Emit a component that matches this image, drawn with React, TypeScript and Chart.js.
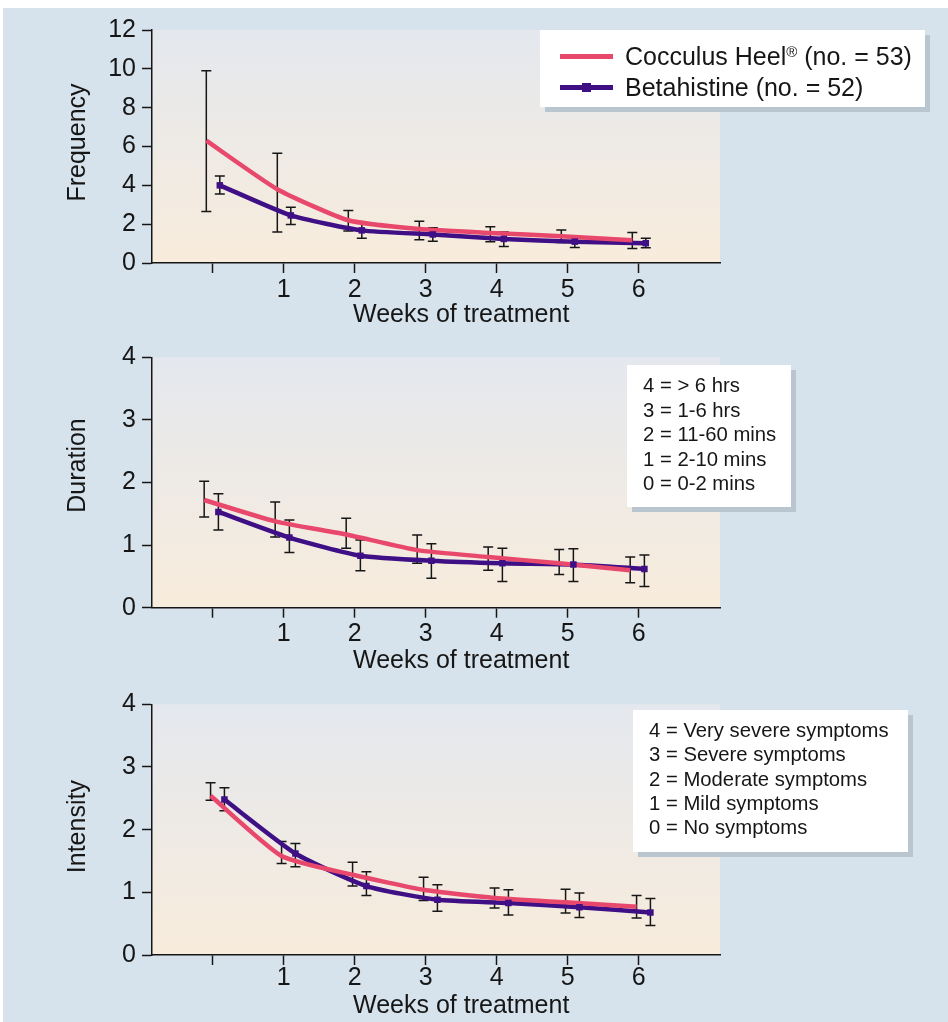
import React, { useEffect, useRef } from 'react';
import { Chart, registerables } from 'chart.js';

Chart.register(...registerables);

const FONT = '"Liberation Sans", Arial, Helvetica, sans-serif';
const PINK = '#e8486b';
const PURPLE = '#3e0f85';
const INK = '#161616';
const PAGE_BLUE = '#d7e3ec';

// ---------- data ----------
const weeks = [0, 1, 2, 3, 4, 5, 6];
const weekTickLabels = ['', '1', '2', '3', '4', '5', '6'];
const xAxisTitle = 'Weeks of treatment';
const seriesNames = ['Cocculus Heel® (no. = 53)', 'Betahistine (no. = 52)'];

const frequencyTicks = [0, 2, 4, 6, 8, 10, 12];
const scoreTicks = [0, 1, 2, 3, 4];

// Frequency
const freqCocculus = [6.3, 3.8, 2.2, 1.75, 1.55, 1.38, 1.17];
const freqCocculusLow = [2.65, 1.6, 1.65, 1.2, 1.1, 1.05, 0.75];
const freqCocculusHigh = [9.9, 5.65, 2.7, 2.15, 1.87, 1.7, 1.57];
const freqBeta = [4.0, 2.45, 1.68, 1.47, 1.24, 1.1, 1.02];
const freqBetaLow = [3.55, 1.98, 1.28, 1.12, 0.85, 0.8, 0.78];
const freqBetaHigh = [4.48, 2.87, 2.05, 1.82, 1.6, 1.4, 1.28];

// Duration
const durCocculus = [1.72, 1.38, 1.17, 0.92, 0.81, 0.71, 0.6];
const durCocculusLow = [1.45, 1.13, 0.95, 0.71, 0.6, 0.53, 0.4];
const durCocculusHigh = [2.02, 1.69, 1.43, 1.16, 0.97, 0.93, 0.81];
const durBeta = [1.53, 1.12, 0.83, 0.75, 0.71, 0.69, 0.62];
const durBetaLow = [1.24, 0.88, 0.59, 0.47, 0.42, 0.42, 0.34];
const durBetaHigh = [1.82, 1.4, 1.08, 1.02, 0.95, 0.94, 0.84];

// Intensity
const intCocculus = [2.54, 1.58, 1.28, 1.04, 0.91, 0.84, 0.77];
const intCocculusLow = [2.47, 1.46, 1.1, 0.87, 0.75, 0.67, 0.59];
const intCocculusHigh = [2.75, 1.81, 1.48, 1.24, 1.07, 1.05, 0.95];
const intBeta = [2.48, 1.62, 1.1, 0.88, 0.83, 0.76, 0.68];
const intBetaLow = [2.3, 1.41, 0.95, 0.7, 0.64, 0.6, 0.47];
const intBetaHigh = [2.67, 1.78, 1.33, 1.12, 1.04, 0.99, 0.9];

const durationKey = ['4 = > 6 hrs', '3 = 1-6 hrs', '2 = 11-60 mins', '1 = 2-10 mins', '0 = 0-2 mins'];
const intensityKey = [
  '4 = Very severe symptoms',
  '3 = Severe symptoms',
  '2 = Moderate symptoms',
  '1 = Mild symptoms',
  '0 = No symptoms',
];

// ---------- layout ----------
const X_MIN = -0.855;
const X_MAX = 7.145;
const Y_AXIS_W = 152;
const X_AXIS_H = 68;
const PAD_RIGHT = 228;

type PanelCfg = {
  id: string;
  canvasTop: number;
  canvasHeight: number;
  padTop: number;
  plotH: number;
  yTitle: string;
  yTicks: number[];
  c: number[];
  cLow: number[];
  cHigh: number[];
  b: number[];
  bLow: number[];
  bHigh: number[];
  dodgeC: number;
  dodgeB: number;
  tickPad: number;
  xTitleGap: number;
  yTitleShift: number;
};

const panels: PanelCfg[] = [
  {
    id: 'freq', canvasTop: 0, canvasHeight: 340, padTop: 30, plotH: 233,
    yTitle: 'Frequency', yTicks: frequencyTicks,
    c: freqCocculus, cLow: freqCocculusLow, cHigh: freqCocculusHigh,
    b: freqBeta, bLow: freqBetaLow, bHigh: freqBetaHigh,
    dodgeC: -0.09, dodgeB: 0.1, tickPad: 2, xTitleGap: 52, yTitleShift: -4,
  },
  {
    id: 'dur', canvasTop: 330, canvasHeight: 360, padTop: 27.3, plotH: 250.4,
    yTitle: 'Duration', yTicks: scoreTicks,
    c: durCocculus, cLow: durCocculusLow, cHigh: durCocculusHigh,
    b: durBeta, bLow: durBetaLow, bHigh: durBetaHigh,
    dodgeC: -0.12, dodgeB: 0.08, tickPad: 1, xTitleGap: 53, yTitleShift: -17,
  },
  {
    id: 'int', canvasTop: 680, canvasHeight: 342, padTop: 24.3, plotH: 250.7,
    yTitle: 'Intensity', yTicks: scoreTicks,
    c: intCocculus, cLow: intCocculusLow, cHigh: intCocculusHigh,
    b: intBeta, bLow: intBetaLow, bHigh: intBetaHigh,
    dodgeC: -0.03, dodgeB: 0.165, tickPad: -2, xTitleGap: 51, yTitleShift: -3,
  },
];

// ---------- plugins ----------
const plotBackground = {
  id: 'plotBackground',
  beforeDraw(chart: any) {
    const { ctx, chartArea: a } = chart;
    const g = ctx.createLinearGradient(0, a.top, 0, a.bottom);
    g.addColorStop(0, '#e4e8ee');
    g.addColorStop(1, '#f8ecdc');
    ctx.save();
    ctx.fillStyle = g;
    ctx.fillRect(a.left, a.top, a.right - a.left, a.bottom - a.top);
    ctx.restore();
  },
};

const errorBars = {
  id: 'errorBars',
  beforeDatasetsDraw(chart: any) {
    const { ctx } = chart;
    const xs = chart.scales.x;
    const ys = chart.scales.y;
    ctx.save();
    ctx.strokeStyle = INK;
    ctx.lineWidth = 1.5;
    chart.data.datasets.forEach((ds: any) => {
      if (!ds.errLow) return;
      ds.data.forEach((p: any, i: number) => {
        const x = xs.getPixelForValue(p.x);
        const y1 = ys.getPixelForValue(ds.errLow[i]);
        const y2 = ys.getPixelForValue(ds.errHigh[i]);
        ctx.beginPath();
        ctx.moveTo(x, y1);
        ctx.lineTo(x, y2);
        ctx.moveTo(x - 5, y1);
        ctx.lineTo(x + 5, y1);
        ctx.moveTo(x - 5, y2);
        ctx.lineTo(x + 5, y2);
        ctx.stroke();
      });
    });
    ctx.restore();
  },
};

const axisTitles = {
  id: 'axisTitles',
  afterDraw(chart: any, _args: any, opts: any) {
    const { ctx, chartArea: a } = chart;
    const xs = chart.scales.x;
    ctx.save();
    ctx.fillStyle = INK;
    ctx.font = `25px ${FONT}`;
    ctx.textAlign = 'center';
    ctx.textBaseline = 'middle';
    const cx = (xs.getPixelForValue(1) + xs.getPixelForValue(6)) / 2;
    ctx.fillText(opts.xTitle, cx, a.bottom + opts.xTitleGap);
    ctx.translate(78, (a.top + a.bottom) / 2 + opts.yTitleShift);
    ctx.rotate(-Math.PI / 2);
    ctx.fillText(opts.yTitle, 0, 0);
    ctx.restore();
  },
};

function axisCommon(tickPad: number) {
  return {
    ticks: { font: { family: FONT, size: 25 }, color: INK, padding: tickPad },
    grid: {
      display: true,
      drawOnChartArea: false,
      drawTicks: true,
      tickLength: 10,
      tickColor: INK,
      tickWidth: 1.5,
    },
    border: { display: true, color: INK, width: 1.5 },
  };
}

function Panel({ cfg }: { cfg: PanelCfg }) {
  const ref = useRef<HTMLCanvasElement>(null);
  useEffect(() => {
    const canvas = ref.current;
    if (!canvas) return;
    const cPts = cfg.c.map((v, i) => ({ x: weeks[i] + cfg.dodgeC, y: v }));
    const bPts = cfg.b.map((v, i) => ({ x: weeks[i] + cfg.dodgeB, y: v }));
    const xAx = axisCommon(cfg.tickPad);
    const yAx = axisCommon(6);
    const chart = new Chart(canvas, {
      type: 'line',
      data: {
        datasets: [
          {
            label: seriesNames[1] + ' markers',
            data: bPts,
            showLine: false,
            pointStyle: 'rect',
            pointRadius: 4.6,
            pointBackgroundColor: PURPLE,
            pointBorderWidth: 0,
            borderColor: PURPLE,
          } as any,
          {
            label: seriesNames[0],
            data: cPts,
            borderColor: PINK,
            borderWidth: 4.5,
            pointRadius: 0,
            tension: 0.18,
            errLow: cfg.cLow,
            errHigh: cfg.cHigh,
          } as any,
          {
            label: seriesNames[1],
            data: bPts,
            borderColor: PURPLE,
            borderWidth: 4.5,
            pointRadius: 0,
            tension: 0.18,
            errLow: cfg.bLow,
            errHigh: cfg.bHigh,
          } as any,
        ],
      },
      options: {
        responsive: false,
        animation: false,
        devicePixelRatio: 1,
        parsing: false as any,
        layout: {
          padding: {
            left: 0,
            right: PAD_RIGHT,
            top: cfg.padTop,
            bottom: cfg.canvasHeight - cfg.padTop - cfg.plotH - X_AXIS_H,
          },
        },
        plugins: {
          legend: { display: false },
          tooltip: { enabled: false },
          axisTitles: {
            xTitle: xAxisTitle,
            yTitle: cfg.yTitle,
            xTitleGap: cfg.xTitleGap,
            yTitleShift: cfg.yTitleShift,
          },
        } as any,
        scales: {
          x: {
            type: 'linear',
            min: X_MIN,
            max: X_MAX,
            afterBuildTicks: (s: any) => {
              s.ticks = weeks.map((v) => ({ value: v }));
            },
            afterFit: (s: any) => {
              s.height = X_AXIS_H;
            },
            ...xAx,
            ticks: {
              ...xAx.ticks,
              maxRotation: 0,
              autoSkip: false,
              callback: (v: any) => {
                const i = weeks.indexOf(Number(v));
                return i >= 0 ? weekTickLabels[i] : '';
              },
            },
          },
          y: {
            type: 'linear',
            min: cfg.yTicks[0],
            max: cfg.yTicks[cfg.yTicks.length - 1],
            afterBuildTicks: (s: any) => {
              s.ticks = cfg.yTicks.map((v) => ({ value: v }));
            },
            afterFit: (s: any) => {
              s.width = Y_AXIS_W;
            },
            ...yAx,
          },
        } as any,
      },
      plugins: [plotBackground, errorBars, axisTitles],
    });
    return () => chart.destroy();
  }, [cfg]);
  return (
    <canvas
      ref={ref}
      width={948}
      height={cfg.canvasHeight}
      style={{ position: 'absolute', left: 0, top: cfg.canvasTop, width: 948, height: cfg.canvasHeight }}
    />
  );
}

function KeyBox({
  left, top, width, height, lines, textLeft, firstY, step,
}: {
  left: number; top: number; width: number; height: number; lines: string[];
  textLeft: number; firstY: number; step: number;
}) {
  return (
    <div
      style={{
        position: 'absolute', left, top, width, height, background: '#ffffff',
        boxShadow: '5px 5px 0 #b9c5cf', zIndex: 2,
      }}
    >
      {lines.map((t, i) => (
        <div
          key={t}
          style={{
            position: 'absolute', left: textLeft - left, top: firstY + i * step - top - 12,
            height: 24, lineHeight: '24px', fontSize: 20.3, fontFamily: FONT, color: INK,
            whiteSpace: 'nowrap',
          }}
        >
          {t}
        </div>
      ))}
    </div>
  );
}

function renderName(name: string) {
  const k = name.indexOf('®');
  if (k < 0) return name;
  return (
    <>
      {name.slice(0, k)}
      <span style={{ fontSize: 15, verticalAlign: 'top', lineHeight: '22px' }}>®</span>
      {name.slice(k + 1)}
    </>
  );
}

function SeriesLegend() {
  const rowY = [56, 87];
  return (
    <div
      style={{
        position: 'absolute', left: 540, top: 30, width: 385, height: 77, background: '#ffffff',
        boxShadow: '5px 5px 0 #b9c5cf', zIndex: 2,
      }}
    >
      {seriesNames.map((name, i) => (
        <React.Fragment key={name}>
          <div
            style={{
              position: 'absolute', left: 20, top: rowY[i] - 30 - 2.5, width: 53, height: 5,
              background: i === 0 ? PINK : PURPLE,
            }}
          />
          {i === 1 && (
            <div
              style={{
                position: 'absolute', left: 46 - 4.5, top: rowY[i] - 30 - 4.5, width: 9, height: 9,
                background: PURPLE,
              }}
            />
          )}
          <div
            style={{
              position: 'absolute', left: 85, top: rowY[i] - 30 - 15, height: 30, lineHeight: '30px',
              fontSize: 25, fontFamily: FONT, color: INK, whiteSpace: 'nowrap',
            }}
          >
            {renderName(name)}
          </div>
        </React.Fragment>
      ))}
    </div>
  );
}

export default function App() {
  return (
    <div
      style={{
        position: 'fixed', left: 0, top: 0, width: 948, height: 1022, background: '#ffffff',
        overflow: 'hidden', fontFamily: FONT,
      }}
    >
      <div style={{ position: 'absolute', left: 3, top: 8, width: 945, height: 1014, background: PAGE_BLUE }} />
      {panels.map((p) => (
        <Panel key={p.id} cfg={p} />
      ))}
      <SeriesLegend />
      <KeyBox left={627} top={365} width={164} height={142} lines={durationKey} textLeft={643} firstY={385} step={24.5} />
      <KeyBox left={633} top={710} width={275} height={142} lines={intensityKey} textLeft={649} firstY={730} step={24.3} />
    </div>
  );
}
